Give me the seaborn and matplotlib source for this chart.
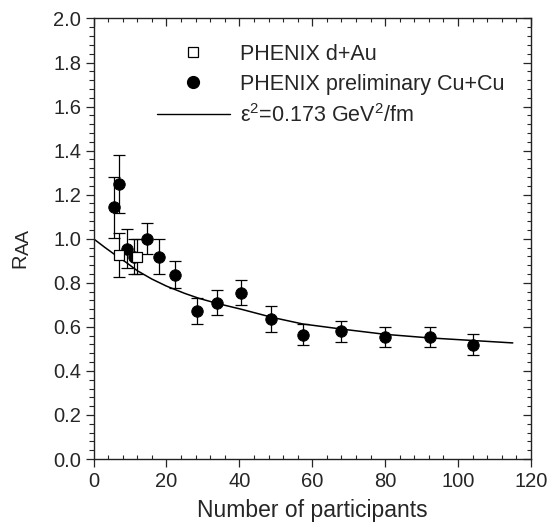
import numpy as np
import pandas as pd
import matplotlib
matplotlib.use("Agg")
import matplotlib.pyplot as plt
import seaborn as sns
from matplotlib.ticker import MultipleLocator, FormatStrFormatter
from matplotlib.lines import Line2D

# Data
cucu_npart = [5.7, 7.1, 9.2, 11.0, 14.7, 18.1, 22.3, 28.3, 33.9, 40.5, 48.8, 57.4, 67.9, 79.9, 92.2, 104.2]
cucu_raa = [1.142, 1.248, 0.955, 0.919, 1.0, 0.919, 0.837, 0.671, 0.709, 0.755, 0.636, 0.565, 0.580, 0.554, 0.554, 0.519]
cucu_err = [0.14, 0.13, 0.09, 0.08, 0.07, 0.08, 0.06, 0.06, 0.057, 0.058, 0.058, 0.048, 0.047, 0.047, 0.047, 0.047]

dau_npart = [7.1, 11.9]
dau_raa = [0.926, 0.919]
dau_err = [0.10, 0.08]

curve_npart = [0, 3, 6, 9, 12, 16, 20, 25, 29, 34, 40.5, 49, 57.4, 68, 80, 92, 104, 115]
curve_raa = [1.0, 0.962, 0.926, 0.892, 0.855, 0.817, 0.785, 0.752, 0.729, 0.706, 0.68, 0.643, 0.613, 0.590, 0.566, 0.550, 0.538, 0.527]

cucu = pd.DataFrame({"npart": cucu_npart, "raa": cucu_raa})
dau = pd.DataFrame({"npart": dau_npart, "raa": dau_raa})
curve = pd.DataFrame({"npart": curve_npart, "raa": curve_raa})

sns.set_style("ticks")
plt.rcParams["font.family"] = ["Liberation Sans", "DejaVu Sans"]
plt.rcParams["mathtext.fontset"] = "custom"
plt.rcParams["mathtext.rm"] = "Liberation Sans"
plt.rcParams["mathtext.default"] = "regular"

fig = plt.figure(figsize=(5.51, 5.27), dpi=100)
ax = fig.add_axes([0.1697, 0.129, 0.794, 0.836])

# theory curve
sns.lineplot(data=curve, x="npart", y="raa", color="black", linewidth=1.1, ax=ax)

# error bars
ax.errorbar(cucu_npart, cucu_raa, yerr=cucu_err, fmt="none", ecolor="black",
            elinewidth=0.9, capsize=4, capthick=0.9, zorder=3)
ax.errorbar(dau_npart, dau_raa, yerr=dau_err, fmt="none", ecolor="black",
            elinewidth=0.9, capsize=4, capthick=0.9, zorder=3)

# points
sns.scatterplot(data=cucu, x="npart", y="raa", marker="o", s=68, color="black",
                edgecolor="black", ax=ax, zorder=4)
sns.scatterplot(data=dau, x="npart", y="raa", marker="s", s=55, color="white",
                edgecolor="black", linewidth=0.9, ax=ax, zorder=5)

ax.set_xlim(0, 120)
ax.set_ylim(0, 2.0)
ax.xaxis.set_major_locator(MultipleLocator(20))
ax.xaxis.set_minor_locator(MultipleLocator(4))
ax.yaxis.set_major_locator(MultipleLocator(0.2))
ax.yaxis.set_minor_locator(MultipleLocator(0.04))
ax.yaxis.set_major_formatter(FormatStrFormatter("%.1f"))

ax.set_xlabel("Number of participants", fontsize=16.5, labelpad=6)
ax.set_ylabel("")
# R_AA label built from two pieces so the subscript stays fairly large
fig.text(0.0354, 0.505, "R", rotation=90, ha="center", va="center", fontsize=14.5)
fig.text(0.0440, 0.5405, "AA", rotation=90, ha="center", va="center", fontsize=14)

for sp in ax.spines.values():
    sp.set_linewidth(1.0)
    sp.set_color("#222222")

# left: outward ticks; bottom: major out, minor in
ax.tick_params(axis="y", which="major", direction="out", length=6, width=0.9, labelsize=14.5, right=False, pad=3)
ax.tick_params(axis="y", which="minor", direction="out", length=3.5, width=0.8, right=False)
ax.tick_params(axis="x", which="major", direction="out", length=6, width=0.9, labelsize=14.5, top=False, pad=3)
ax.tick_params(axis="x", which="minor", direction="in", length=3, width=0.8, top=False)

# top and right: inward ticks, no labels
top = ax.secondary_xaxis("top")
top.xaxis.set_major_locator(MultipleLocator(20))
top.xaxis.set_minor_locator(MultipleLocator(4))
top.tick_params(which="major", direction="in", length=6, width=0.9, labeltop=False)
top.tick_params(which="minor", direction="in", length=3, width=0.8)
top.spines["top"].set_visible(False)

right = ax.secondary_yaxis("right")
right.yaxis.set_major_locator(MultipleLocator(0.2))
right.yaxis.set_minor_locator(MultipleLocator(0.04))
right.tick_params(which="major", direction="in", length=6, width=0.9, labelright=False)
right.tick_params(which="minor", direction="in", length=3, width=0.8)
right.spines["right"].set_visible(False)

handles = [
    Line2D([], [], linestyle="none", marker="s", markersize=7, markerfacecolor="white",
           markeredgecolor="black", markeredgewidth=0.9),
    Line2D([], [], linestyle="none", marker="o", markersize=8.5, markerfacecolor="black",
           markeredgecolor="black"),
    Line2D([], [], color="black", linewidth=1.0),
]
labels = ["PHENIX d+Au", "PHENIX preliminary Cu+Cu", "ε$^2$=0.173 GeV$^2$/fm"]
ax.legend(handles, labels, loc="upper left", bbox_to_anchor=(0.144, 0.943),
          frameon=False, fontsize=15.5, handlelength=3.4, handletextpad=0.47,
          labelspacing=0.42, borderpad=0, borderaxespad=0)

fig.savefig("out.png", dpi=100)
